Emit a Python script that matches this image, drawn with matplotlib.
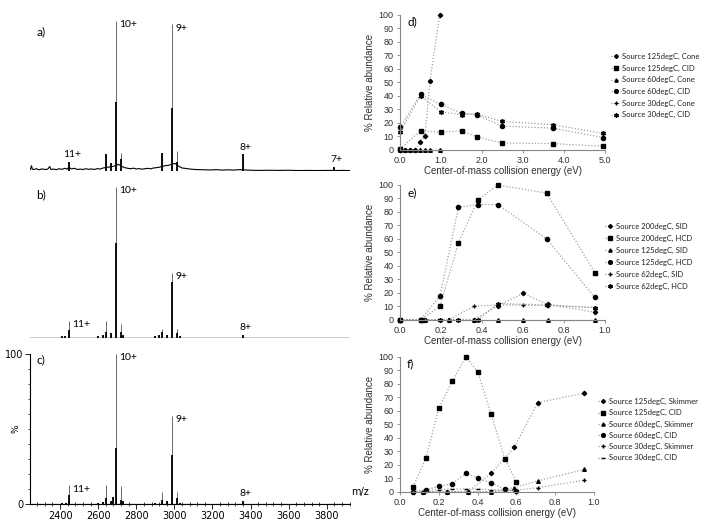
import numpy as np
import matplotlib
matplotlib.use('Agg')
import matplotlib.pyplot as plt

W, H = 704, 527

# ------------------------------
# spectra a) b) c)  (m/z, % intensity)
# ------------------------------
a_mz = [2447, 2640, 2666, 2692, 2718, 2934, 2990, 3016, 3360, 3838]
a_top = [6, 11, 5, 100, 12, 12, 97.5, 13, 11, 2.5]
a_core = [6, 11, 5, 46, 8, 12, 42, 6, 11, 2.5]
a_noise_mz = [2243, 2250, 2254, 2262, 2275, 2290, 2305, 2320, 2335, 2346, 2352, 2365,
              2380, 2395, 2410, 2425, 2437, 2445, 2460, 2475, 2490, 2505, 2520, 2535,
              2550, 2565, 2580, 2595, 2610, 2625, 2650, 2675, 2700, 2705, 2725, 2740,
              2755, 2770, 2785, 2800, 2815, 2830, 2845, 2860, 2875, 2890, 2905, 2920,
              2950, 2970, 2985, 3005, 3025, 3040, 3055, 3070, 3090, 3110, 3130, 3160,
              3190, 3220, 3250, 3280, 3310, 3340, 3400, 3450, 3500, 3550, 3600, 3650,
              3700, 3750, 3800, 3850, 3880, 3920]
a_noise_int = [0.8, 3.5, 1.2, 1.0, 1.5, 0.8, 1.4, 1.0, 1.2, 3.0, 1.0, 1.3,
               0.9, 1.5, 1.1, 1.8, 1.2, 2.5, 1.4, 1.8, 1.0, 1.3, 1.0, 1.5,
               1.1, 1.4, 1.0, 1.6, 1.3, 2.0, 2.5, 3.0, 4.0, 4.5, 3.0, 2.2,
               1.8, 1.5, 1.9, 1.3, 1.6, 1.2, 1.5, 1.8, 1.4, 2.0, 2.2, 2.5,
               3.5, 3.8, 4.5, 5.0, 3.0, 2.0, 1.8, 1.5, 1.2, 1.0, 0.9, 0.8,
               0.7, 0.9, 0.6, 0.8, 0.6, 0.9, 0.5, 0.4, 0.5, 0.4, 0.5, 0.3,
               0.4, 0.3, 0.4, 0.3, 0.4, 0.3]

b_mz = [2410, 2428, 2447, 2600, 2625, 2640, 2666, 2692, 2718, 2730, 2900, 2920, 2934, 2960, 2990, 3016, 3030, 3360]
b_top = [1, 1.2, 11, 1.2, 1.5, 11, 3, 100, 9, 2, 1, 1.5, 6, 2, 43, 6, 1.2, 2]
b_core = [1, 1.2, 5, 1.2, 1.5, 4, 3, 63, 4, 2, 1, 1.5, 4, 2, 37, 3, 1.2, 2]

c_mz = [2410, 2430, 2447, 2600, 2625, 2640, 2666, 2680, 2692, 2718, 2730, 2900, 2934, 2960, 2990, 3016, 3030, 3360]
c_top = [1, 1, 12.5, 1, 1.5, 12.5, 2, 5, 100, 12, 2, 1, 8, 2, 59, 8, 1, 2]
c_core = [1, 1, 6, 1, 1.5, 4, 2, 5, 37.5, 3, 2, 1, 3, 2, 33, 4, 1, 2]

charge_labels = ['11+', '10+', '9+', '8+', '7+']
a_label_mz = [2447, 2692, 2990, 3360, 3838]
a_label_y = [6, 100, 97.5, 11, 2.5]
b_label_mz = [2447, 2692, 2990, 3360]
b_label_y = [11, 100, 43, 2]
c_label_mz = [2447, 2692, 2990, 3360]
c_label_y = [12.5, 100, 59, 2]

mz_ticks = [2400, 2600, 2800, 3000, 3200, 3400, 3600, 3800]

# ------------------------------
# d) energy-resolved curves
# ------------------------------
d_x_cone = [0, 0.12, 0.24, 0.37, 0.49, 0.61, 0.73, 0.97]
d_x_cid = [0, 0.5, 1.0, 1.5, 1.87, 2.48, 3.72, 4.96]
d_125_cone = [0, 0, 0, 0, 5.5, 10, 51, 100]
d_125_cid = [0.5, 14, 13, 14, 9.5, 5, 4.5, 2.5]
d_60_cone = [0, 0, 0, 0, 0, 0, 0, 0]
d_60_cid = [16.5, 41, 33.5, 27, 26, 17.5, 16, 9]
d_30_cone = [0, 0, 0, 0, 0, 0, 0, 0]
d_30_cid = [13, 40, 28, 26, 26.5, 21, 18.5, 12]

# e)
e_x_sid = [0, 0.12, 0.24, 0.36, 0.48, 0.6, 0.72, 0.95]
e_x_hcd = [0, 0.1, 0.195, 0.285, 0.38, 0.477, 0.715, 0.95]
e_200_sid = [0, 0, 0, 0, 10.5, 19.5, 11.5, 5.5]
e_200_hcd = [0, 0, 10, 57, 89, 100, 94, 35]
e_125_sid = [0, 0, 0, 0, 0, 0, 0, 0]
e_125_hcd = [0, 0, 17.5, 83.5, 85.5, 85.5, 60, 16.5]
e_62_sid = [0, 0, 0, 10, 11, 10.8, 10.5, 9]
e_62_hcd = [0, 0, 0, 0, 0, 12, 11, 9]

# f)
f_x_skim = [0.12, 0.24, 0.35, 0.47, 0.59, 0.71, 0.95]
f_x_cid = [0.067, 0.134, 0.2, 0.27, 0.34, 0.4, 0.47, 0.54, 0.6]
f_125_skim = [0, 0, 0, 13.5, 33, 66, 73]
f_125_cid = [3.5, 25, 62, 82, 100, 89, 57.5, 24.5, 7.5]
f_60_skim = [0, 0, 0, 0, 3, 8, 16.5]
f_60_cid = [0, 1.5, 4, 6, 13.5, 10, 6.5, 2, 0.5]
f_30_skim = [0, 0, 0, 0, 1, 3, 8.5]
f_30_cid = [0, 1, 1.5, 2, 2, 2, 1.5, 1, 1]

fig = plt.figure(figsize=(W / 100, H / 100), dpi=100)


def px_axes(x0, y0, x1, y1):
    # pixel box (left, top, right, bottom) -> axes
    return fig.add_axes([x0 / W, 1 - y1 / H, (x1 - x0) / W, (y1 - y0) / H])


# ------------------------------
# spectra
# ------------------------------
def spectrum(ax, mz, top, core, letter, letter_y, lab_mz, lab_y, labels, above_first=False):
    ax.set_xlim(2242, 3922)
    ax.set_ylim(0, 100)
    ax.vlines(mz, 0, top, color='#6a6a6a', lw=0.7)
    ax.vlines(mz, 0, core, color='k', lw=1.3)
    for i, (m, y, s) in enumerate(zip(lab_mz, lab_y, labels)):
        if (i == 0 and above_first) or y < 5 or (above_first and s == '8+'):
            ax.annotate(s, (m, y), xytext=(2, 2), textcoords='offset points',
                        ha='center', va='bottom', fontsize=7.5, family='Lato')
        else:
            ax.annotate(s, (m, y), xytext=(2.5, 0.5), textcoords='offset points',
                        ha='left', va='top', fontsize=7.5, family='Lato')
    ax.text(0.02, letter_y, letter, transform=ax.transAxes, fontsize=8.5,
            family='Lato', va='top')
    for sp in ax.spines.values():
        sp.set_visible(False)
    ax.set_xticks([])
    ax.set_yticks([])
    ax.patch.set_alpha(0)


ax_a = px_axes(30, 20.7, 350, 171)
ax_a.plot(a_noise_mz, a_noise_int, color='k', lw=0.8)
spectrum(ax_a, a_mz, a_top, a_core, 'a)', 0.96, a_label_mz, a_label_y, charge_labels, above_first=True)

ax_b = px_axes(30, 186.7, 350, 337.7)
ax_b.axhline(0, color='k', lw=1)
spectrum(ax_b, b_mz, b_top, b_core, 'b)', 0.98, b_label_mz, b_label_y, charge_labels)

ax_c = px_axes(30, 354, 350, 504)
ax_c.axhline(0, color='k', lw=0.8)
spectrum(ax_c, c_mz, c_top, c_core, 'c)', 1.0, c_label_mz, c_label_y, charge_labels)
ax_c.spines['left'].set_visible(True)
ax_c.spines['bottom'].set_visible(True)
ax_c.set_xticks(mz_ticks)
ax_c.set_xticks(np.arange(2280, 3922, 40), minor=True)
ax_c.set_yticks([0, 100])
ax_c.set_yticks(np.arange(0, 101, 10), minor=True)
ax_c.tick_params(axis='both', labelsize=7, length=3.5, width=0.6, pad=1.5)
ax_c.tick_params(axis='both', which='minor', length=1.8, width=0.5)
ax_c.tick_params(axis='x', which='minor', direction='inout', length=3)
ax_c.set_ylabel('%', fontsize=6.5)
ax_c.yaxis.set_label_coords(-0.03, 0.5)
ax_c.text(1.003, 0.08, 'm/z', transform=ax_c.transAxes, fontsize=7, va='center')

# ------------------------------
# energy-resolved plots
# ------------------------------
line_kw = dict(color='#999999', ls=':', lw=0.85, mec='k', mfc='k', clip_on=False)
star = (6, 2, 0)


def energy_panel(ax, series, xmax, xticks, letter, leg_xy, leg_spacing):
    for x, y, m, ms, lab in series:
        ax.plot(x, y, marker=m, ms=ms, label=lab, **line_kw)
    ax.set_xlim(0, xmax)
    ax.set_ylim(0, 100)
    ax.set_yticks(range(0, 101, 10))
    ax.set_xticks(xticks)
    ax.set_xticklabels(['{:.1f}'.format(t) for t in xticks])
    for sp in ['top', 'right']:
        ax.spines[sp].set_visible(False)
    for sp in ['left', 'bottom']:
        ax.spines[sp].set_color('#868686')
        ax.spines[sp].set_linewidth(0.8)
    ax.tick_params(labelsize=6.5, labelcolor='#303030', color='#868686',
                   length=2.5, width=0.6, pad=2)
    for t in ax.get_xticklabels() + ax.get_yticklabels():
        t.set_family('Liberation Sans')
    ax.set_ylabel('% Relative abundance', fontsize=7, family='Liberation Sans',
                  color='#303030', labelpad=3)
    ax.set_xlabel('Center-of-mass collision energy (eV)', fontsize=7,
                  family='Liberation Sans', color='#303030', labelpad=1)
    ax.text(0.035, 0.985, letter, transform=ax.transAxes, fontsize=8.5,
            family='Lato', va='top')
    ax.patch.set_alpha(0)
    leg = ax.legend(loc='upper left', bbox_to_anchor=(leg_xy[0] / W, 1 - leg_xy[1] / H),
                    bbox_transform=fig.transFigure, frameon=False, fontsize=5.5,
                    handlelength=1.3, handletextpad=0.1, labelspacing=leg_spacing,
                    borderaxespad=0, borderpad=0, markerscale=0.9)
    for t in leg.get_texts():
        t.set_family('Lato')
        t.set_color('#202020')


ax_d = px_axes(400, 14.7, 605, 149.7)
energy_panel(ax_d, [
    (d_x_cone, d_125_cone, 'D', 2.2, 'Source 125degC, Cone'),
    (d_x_cid, d_125_cid, 's', 3, 'Source 125degC, CID'),
    (d_x_cone, d_60_cone, '^', 2.6, 'Source 60degC, Cone'),
    (d_x_cid, d_60_cid, 'o', 3, 'Source 60degC, CID'),
    (d_x_cone, d_30_cone, '+', 3.5, 'Source 30degC, Cone'),
    (d_x_cid, d_30_cid, star, 3.5, 'Source 30degC, CID'),
], 5, [0, 1, 2, 3, 4, 5], 'd)', (611, 53), 0.6)

ax_e = px_axes(400, 185, 605, 319.7)
energy_panel(ax_e, [
    (e_x_sid, e_200_sid, 'D', 2.2, 'Source 200degC, SID'),
    (e_x_hcd, e_200_hcd, 's', 3, 'Source 200degC, HCD'),
    (e_x_sid, e_125_sid, '^', 2.6, 'Source 125degC, SID'),
    (e_x_hcd, e_125_hcd, 'o', 3, 'Source 125degC, HCD'),
    (e_x_sid, e_62_sid, '+', 3.5, 'Source 62degC, SID'),
    (e_x_hcd, e_62_hcd, star, 3.5, 'Source 62degC, HCD'),
], 1, [0, 0.2, 0.4, 0.6, 0.8, 1.0], 'e)', (605, 223), 0.65)

ax_f = px_axes(400, 356.7, 594, 491.7)
energy_panel(ax_f, [
    (f_x_skim, f_125_skim, 'D', 2.2, 'Source 125degC, Skimmer'),
    (f_x_cid, f_125_cid, 's', 3, 'Source 125degC, CID'),
    (f_x_skim, f_60_skim, '^', 2.6, 'Source 60degC, Skimmer'),
    (f_x_cid, f_60_cid, 'o', 3, 'Source 60degC, CID'),
    (f_x_skim, f_30_skim, '+', 3.5, 'Source 30degC, Skimmer'),
    (f_x_cid, f_30_cid, '_', 3.5, 'Source 30degC, CID'),
], 1, [0, 0.2, 0.4, 0.6, 0.8, 1.0], 'f)', (598, 398), 0.55)

fig.savefig('out.png', dpi=100)
